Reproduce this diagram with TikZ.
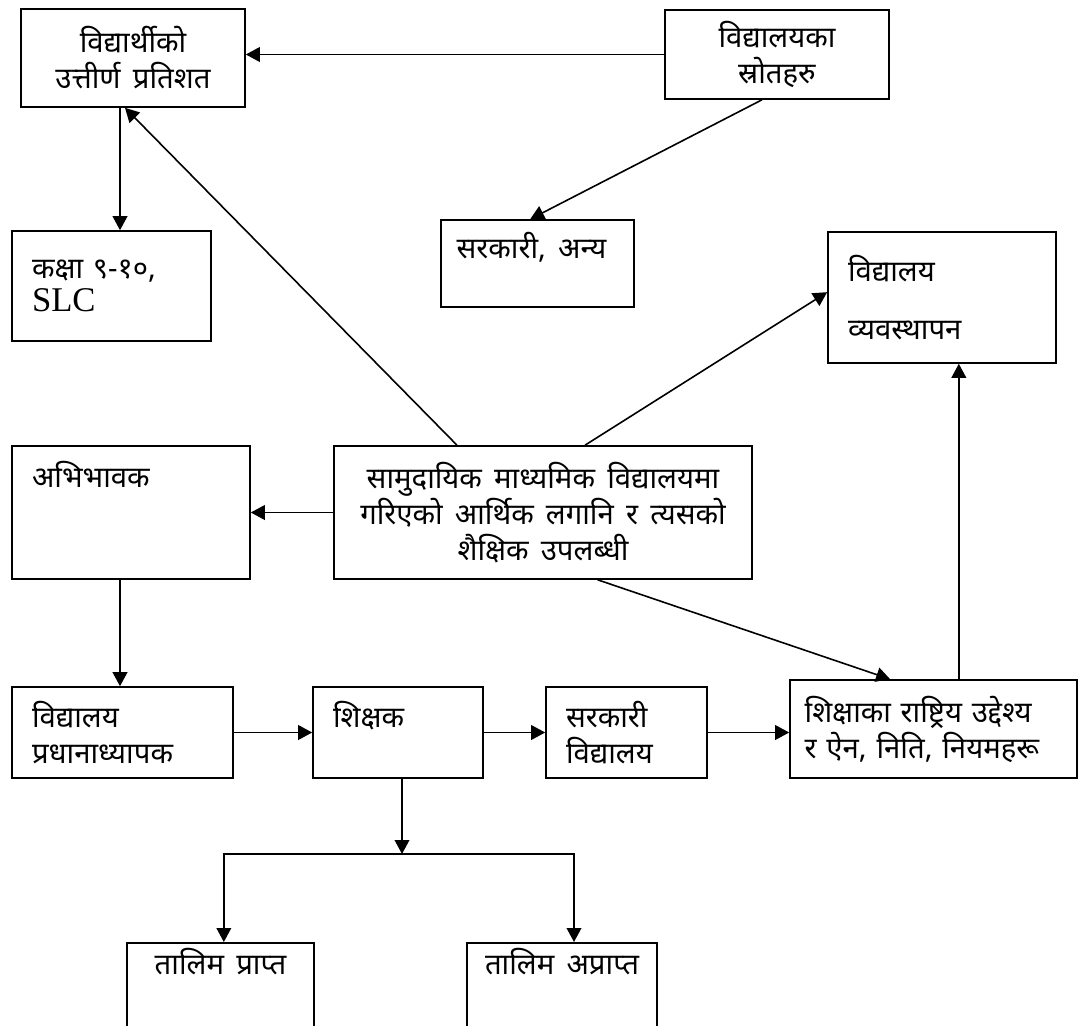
\documentclass[tikz,border=0pt]{standalone}
\usepackage{fontspec}
\setmainfont{Noto Sans}[Script=Devanagari, WordSpace=1.6]
\newfontfamily\latinfont{Liberation Serif}
\usepackage{tikz}
\usetikzlibrary{arrows.meta}
\tikzset{
    box/.style={
        rectangle,
        draw=black,
        line width=1.2pt,
        inner sep=0pt,
        font=\fontsize{22}{27}\selectfont
    },
    left box/.style={
        box,
        align=left,
        inner xsep=15pt
    },
    arrow/.style={
        -{Triangle[length=10.5pt, width=11pt]},
        line width=1.2pt,
        draw=black
    }
}

\begin{document}
\begin{tikzpicture}[x=0.75pt, y=-0.75pt]

\clip (0, 0) rectangle (1089, 1025);

% === TOP ROW ===

% Pass percentage
\node[box, align=center, minimum width=168pt, minimum height=73.5pt] (result) at (133, 58) {
    विद्यार्थीको\\
    उत्तीर्ण प्रतिशत
};

% School sources
\node[box, align=center, minimum width=168pt, minimum height=66.75pt] (sources) at (777, 54.5) {
    विद्यालयका\\
    स्रोतहरु
};

% Grade 9-10, SLC
\node[left box, text width=119.25pt, minimum height=82.5pt] (grade) at (111.5, 286) {
    कक्षा ९-१०,\\[-2pt]
    {\latinfont\fontsize{26}{30}\selectfont SLC}
};

% Government, other
\node[box, align=center, minimum width=144.75pt, text height=29pt, text depth=36.25pt] (govother) at (537.5, 263.5) {
    सरकारी, अन्य
};

% School management
\node[left box, text width=141pt, minimum height=98.25pt] (management) at (942, 297.5) {
    विद्यालय\\[16pt]
    व्यवस्थापन
};

% === MIDDLE ROW ===

% Main topic
\node[box, align=center, minimum width=313.5pt, minimum height=99.75pt] (invest) at (543, 512.5) {
    सामुदायिक माध्यमिक विद्यालयमा\\
    गरिएको आर्थिक लगानि र त्यसको\\
    शैक्षिक उपलब्धी
};

% Parents
\node[left box, text width=148.5pt, text height=31pt, text depth=68.75pt] (parent) at (131, 512.5) {
    अभिभावक
};

% === BOTTOM ROW ===

\node[left box, text width=135.75pt, minimum height=68.25pt] (head) at (122.5, 732.5) {
    विद्यालय\\
    प्रधानाध्यापक
};

\node[left box, text width=97.5pt, text height=30pt, text depth=38.25pt] (teacher) at (398, 732.5) {
    शिक्षक
};

\node[left box, text width=90.75pt, minimum height=68.25pt] (govschool) at (626.5, 732.5) {
    सरकारी\\
    विद्यालय
};

\node[left box, inner xsep=11pt, text width=193.25pt, minimum height=73.5pt] (policy) at (933.5, 729) {
    शिक्षाका राष्ट्रिय उद्देश्य\\
    र ऐन, निति, नियमहरू
};

% Training (cut at the bottom)
\node[box, anchor=north, minimum width=140.25pt, text height=24pt, text depth=80pt] (trained) at (220.5, 942) {
    तालिम प्राप्त
};

\node[box, anchor=north, minimum width=142.5pt, text height=24pt, text depth=80pt] (untrained) at (562, 942) {
    तालिम अप्राप्त
};

\coordinate (split) at (402, 854);

% === CONNECTORS ===

\draw[arrow] (sources.west) -- (sources.west -| result.east);
\draw[arrow] ([xshift=-9.75pt]result.south) -- ([xshift=-9.75pt]result.south |- grade.north);
\draw[arrow] ([xshift=-11.25pt]sources.south) -- ([xshift=-5.5pt]govother.north);

\draw[arrow] ([xshift=-64.5pt]invest.north) -- ([xshift=-6pt]result.south);
\draw[arrow] ([xshift=31.5pt]invest.north) -- ([yshift=4pt]management.west);
\draw[arrow] (invest.west) -- (invest.west -| parent.east);
\draw[arrow] ([xshift=41pt]invest.south) -- ([xshift=-32.5pt]policy.north);
\draw[arrow] ([xshift=19pt]policy.north) -- ([xshift=19pt]policy.north |- management.south);

\draw[arrow] ([xshift=-8.25pt]parent.south) -- ([xshift=-8.25pt]parent.south |- head.north);
\draw[arrow] (head.east) -- (head.east -| teacher.west);
\draw[arrow] (teacher.east) -- (teacher.east -| govschool.west);
\draw[arrow] (govschool.east) -- (govschool.east -| policy.west);

\draw[arrow] (split |- teacher.south) -- (split);
\draw[arrow] (split) -| ([xshift=2.5pt]trained.north);
\draw[arrow] (split) -| ([xshift=9pt]untrained.north);

\end{tikzpicture}
\end{document}
